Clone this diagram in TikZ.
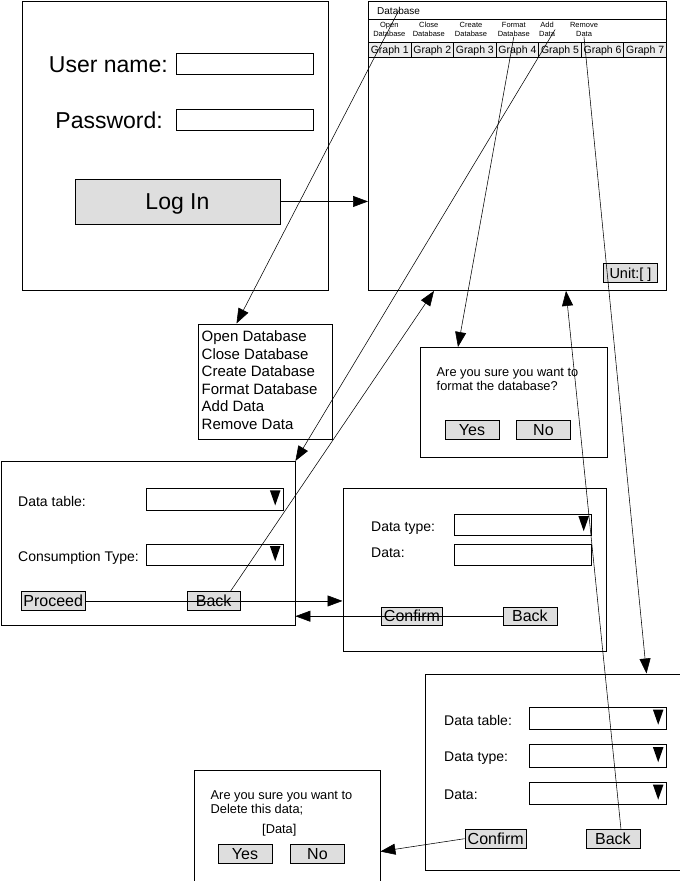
\documentclass[tikz,border=0pt]{standalone}
\usepackage{fontspec}
\setmainfont{Liberation Sans}
\usetikzlibrary{calc,arrows.meta}

\tikzset{
  fs/.style={font=\fontsize{#1}{#1}\selectfont},
  fsc/.style={fs=#1, text height={0.72*#1}, text depth=0pt},
  wh/.style 2 args={minimum width=#1, minimum height=#2},
  win/.style={draw, line width=0.9pt, inner sep=0pt, anchor=north west},
  field/.style={win, fill=white},
  btn/.style={win, fill=black!13, fsc=16},
  tab/.style={win, fill=black!7, fsc=10.5},
  lbl/.style={inner sep=0pt, anchor=west, fsc=14},
  txt/.style={inner sep=0pt, anchor=base west, fs=12.8},
  dropdown/.style={field, path picture={
    \fill [black] ([xshift=-13pt, yshift=8.5pt]path picture bounding box.east)
      -- ++(10.5pt, 0pt) -- ++(-5.25pt, -15pt) -- cycle;}},
  link/.style={line width=0.55pt, -{Triangle[length=15pt, width=11pt]}},
}

\begin{document}
\begin{tikzpicture}[x=1pt, y=-1pt]
  \useasboundingbox (0, 0) rectangle (680, 881);

  % login window
  \node [win, wh={306}{289.5}] (login) at (22, 0.5) {};
  \node [inner sep=0pt, anchor=base east, fs=23] (uname) at (168, 72) {User name:};
  \node [field, wh={137}{21.5}] (ufield) at (175.5, 52.5) {};
  \node [inner sep=0pt, anchor=base east, fs=23] (pword) at (163, 128) {Password:};
  \node [field, wh={137}{21.5}] (pfield) at (175.5, 108.5) {};
  \node [btn, wh={205}{45}, fsc=23] (loginbtn) at (74.5, 178.5) {Log In};

  % database window
  \node [win, wh={298}{289.5}] (db) at (368, 0.5) {};
  \node [lbl, fsc=10] (dbtitle) at (377, 10.7) {Database};
  \draw [line width=0.9pt] ($(db.north west)+(0, 19)$) -- ($(db.north east)+(0, 19)$);
  \node [align=center, inner sep=0pt, fs=7.5] (mopen) at (389.3, 29.5) {Open\\[1.5pt]Database};
  \node [align=center, inner sep=0pt, fs=7.5] (mclose) at (428.8, 29.5) {Close\\[1.5pt]Database};
  \node [align=center, inner sep=0pt, fs=7.5] (mcreate) at (471, 29.5) {Create\\[1.5pt]Database};
  \node [align=center, inner sep=0pt, fs=7.5] (mformat) at (513.8, 29.5) {Format\\[1.5pt]Database};
  \node [align=center, inner sep=0pt, fs=7.5] (madd) at (547, 29.5) {Add\\[1.5pt]Data};
  \node [align=center, inner sep=0pt, fs=7.5] (mremove) at (584, 29.5) {Remove\\[1.5pt]Data};
  % graph tabs
  \node [tab, wh={42.57}{15}] (g1) at (368, 41.5) {Graph 1};
  \node [tab, wh={42.57}{15}] (g2) at (410.57, 41.5) {Graph 2};
  \node [tab, wh={42.57}{15}] (g3) at (453.14, 41.5) {Graph 3};
  \node [tab, wh={42.57}{15}] (g4) at (495.71, 41.5) {Graph 4};
  \node [tab, wh={42.57}{15}] (g5) at (538.28, 41.5) {Graph 5};
  \node [tab, wh={42.57}{15}] (g6) at (580.85, 41.5) {Graph 6};
  \node [tab, wh={42.57}{15}] (g7) at (623.42, 41.5) {Graph 7};
  \node [btn, wh={54}{19}, fsc=14.5] (unit) at (603, 263) {Unit:[ ]};

  % menu list
  \node [win, wh={134}{115.5}] (menu) at (197.5, 323.5) {};
  \node [txt, fs=15] (item1) at (201.5, 341.7) {Open Database};
  \node [txt, fs=15] (item2) at (201.5, 359.2) {Close Database};
  \node [txt, fs=15] (item3) at (201.5, 376.7) {Create Database};
  \node [txt, fs=15] (item4) at (201.5, 394.2) {Format Database};
  \node [txt, fs=15] (item5) at (201.5, 411.7) {Add Data};
  \node [txt, fs=15] (item6) at (201.5, 429.2) {Remove Data};

  % format dialog
  \node [win, wh={187}{110}] (fmt) at (420, 347) {};
  \node [txt] (fmtq1) at (436.5, 376) {Are you sure you want to};
  \node [txt] (fmtq2) at (436.5, 390) {format the database?};
  \node [btn, wh={54}{19}] (fmtyes) at (444.5, 420) {Yes};
  \node [btn, wh={54}{19}] (fmtno) at (516, 420) {No};

  % add data, step 1
  \node [win, wh={294}{164}] (w1) at (0.5, 461) {};
  \node [lbl] (w1table) at (18, 501.7) {Data table:};
  \node [dropdown, wh={137}{22}] (w1dd1) at (145.5, 487.5) {};
  \node [lbl] (w1cons) at (18, 556.5) {Consumption Type:};
  \node [dropdown, wh={137}{21.5}] (w1dd2) at (145.5, 543.5) {};
  \node [btn, wh={64.5}{19}] (proceed) at (20.5, 591) {Proceed};
  \node [btn, wh={53.5}{19}] (back1) at (186.5, 591) {Back};

  % add data, step 2
  \node [win, wh={263.5}{163}] (w2) at (342.5, 487.5) {};
  \node [lbl] (w2type) at (371, 526.7) {Data type:};
  \node [dropdown, wh={137.5}{21.5}] (w2dd) at (453.5, 513.5) {};
  \node [lbl] (w2data) at (371, 552.5) {Data:};
  \node [field, wh={137.5}{21.5}] (w2field) at (453.5, 543.5) {};
  \node [btn, wh={61}{18.5}] (confirm2) at (381, 606.5) {Confirm};
  \node [btn, wh={54}{18.5}] (back2) at (502.5, 606.5) {Back};

  % remove data
  \node [win, wh={257}{196.5}] (w3) at (424.5, 673.5) {};
  \node [lbl] (w3table) at (444, 720.3) {Data table:};
  \node [dropdown, wh={137}{22.5}] (w3dd1) at (528.5, 706.5) {};
  \node [lbl] (w3type) at (444, 756.2) {Data type:};
  \node [dropdown, wh={137}{22.5}] (w3dd2) at (528.5, 744) {};
  \node [lbl] (w3data) at (444, 794.7) {Data:};
  \node [dropdown, wh={137}{22.5}] (w3dd3) at (528.5, 781.5) {};
  \node [btn, wh={61.5}{18.5}] (confirm3) at (464.5, 829) {Confirm};
  \node [btn, wh={54}{18.5}] (back3) at (585.5, 829) {Back};

  % delete dialog
  \node [win, wh={186}{115}] (del) at (193.5, 769.5) {};
  \node [txt] (delq1) at (210.5, 799.3) {Are you sure you want to};
  \node [txt] (delq2) at (210.5, 813.3) {Delete this data;};
  \node [txt, anchor=base] (deldata) at (279.3, 833) {[Data]};
  \node [btn, wh={54}{19}] (delyes) at (217.5, 843.5) {Yes};
  \node [btn, wh={54}{19}] (delno) at (290, 843.5) {No};

  % connectors
  \draw [link] (loginbtn.east) -- (loginbtn.east -| db.west);
  \draw [link] (dbtitle.center) -- ($(menu.north west)+(39, 0)$);
  \draw [link] (mformat.south) -- ($(fmt.north west)+(38, 0)$);
  \draw [link] (madd.east) -- (w1.north east);
  \draw [link] (mremove.south) -- ($(w3.north west)+(222, 0)$);
  \draw [link] ($(back1.north)+(17, 0)$) -- ($(db.south west)+(66, 0)$);
  \draw [link] ($(back3.north)+(8, 0)$) -- ($(db.south west)+(198, 0)$);
  \draw [link] (proceed.east) -- (proceed.east -| w2.west);
  \draw [link] (back2.west) -- (back2.west -| w1.east);
  \draw [link] (confirm3.west) -- ($(del.north east)+(0, 82)$);
\end{tikzpicture}
\end{document}
